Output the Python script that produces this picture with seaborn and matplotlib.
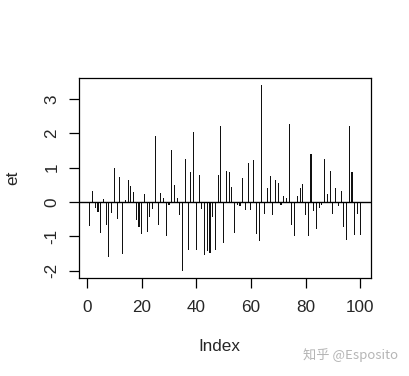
import matplotlib
matplotlib.use("Agg")
import matplotlib.pyplot as plt
import seaborn as sns
import numpy as np
import pandas as pd

index = list(range(1, 101))
et = [
    -0.69, 0.31, -0.19, -0.29, -0.90, 0.07, -0.68, -1.60, -0.32, 1.00,
    -0.49, 0.73, -1.53, 0.06, 0.64, 0.46, 0.28, -0.54, -0.74, -0.93,
    0.23, -0.88, -0.44, -0.22, 1.91, -0.68, 0.26, 0.10, -1.00, -0.08,
    1.50, 0.48, 0.10, -0.37, -2.00, 1.25, -1.39, 0.86, 2.03, -1.39,
    0.79, -0.20, -1.56, -1.43, -1.48, -0.45, -1.39, 0.79, 2.22, -1.21,
    0.89, 0.86, 0.44, -0.90, -0.08, -0.13, 0.70, -0.24, 1.12, -0.25,
    1.22, -0.93, -1.14, 3.39, -0.35, 0.41, 0.75, -0.39, 0.65, 0.55,
    -0.08, 0.18, 0.12, 2.27, -0.66, -1.00, 0.16, 0.41, 0.53, -0.39,
    -1.00, 1.38, -0.27, -0.78, -0.17, -0.10, 1.26, 0.23, 0.89, -0.35,
    0.41, -0.13, 0.31, -0.74, -1.11, 2.22, 0.86, -0.97, -0.34, -0.95,
]
x_ticks = [0, 20, 40, 60, 80, 100]
y_ticks = [-2, -1, 0, 1, 2, 3]

df = pd.DataFrame({"Index": index, "et": et})

sns.set_style("white")
plt.rcParams["font.family"] = ["Liberation Sans", "Noto Sans CJK SC", "DejaVu Sans"]

fig = plt.figure(figsize=(4.1, 3.76), dpi=100)
ax = fig.add_axes([79 / 410, 1 - 278 / 376, (371 - 79) / 410, (278 - 78) / 376])

sns.barplot(data=df, x="Index", y="et", native_scale=True, width=0.4,
            color="#111111", saturation=1, linewidth=0, ax=ax)
ax.axhline(0, color="black", lw=1.0, zorder=3)

rng_y = max(et) - min(et)
ax.set_xlim(1 - 0.04 * 99, 100 + 0.04 * 99)
ax.set_ylim(min(et) - 0.04 * rng_y, max(et) + 0.04 * rng_y)

fs = 12.3
ax.set_xticks(x_ticks)
ax.set_yticks(y_ticks)
ax.set_xticklabels([str(t) for t in x_ticks], fontsize=fs)
ax.set_yticklabels([str(t) for t in y_ticks], fontsize=fs, rotation=90, va="center")
ax.tick_params(axis="x", direction="out", length=7.2, width=0.9, color="black",
               bottom=True, pad=8.5)
ax.tick_params(axis="y", direction="out", length=7.2, width=0.9, color="black",
               left=True, pad=7)
for s in ax.spines.values():
    s.set_visible(True)
    s.set_color("black")
    s.set_linewidth(0.9)

ax.set_xlabel("Index", fontsize=fs)
ax.set_ylabel("et", fontsize=fs)
ax.xaxis.set_label_coords((219 - 79) / 292, (278 - 346.5) / 200)
ax.xaxis.label.set_verticalalignment("center")
ax.yaxis.set_label_coords((12.7 - 79) / 292, 0.5)
ax.yaxis.label.set_verticalalignment("center")

fig.text(398 / 410, 1 - 355 / 376, "知乎 @Esposito", ha="right", va="center",
         fontsize=9.5, color="#b5b5b5",
         family=["Noto Sans CJK SC", "DejaVu Sans"])

fig.savefig("out.png", dpi=100, facecolor="white")
